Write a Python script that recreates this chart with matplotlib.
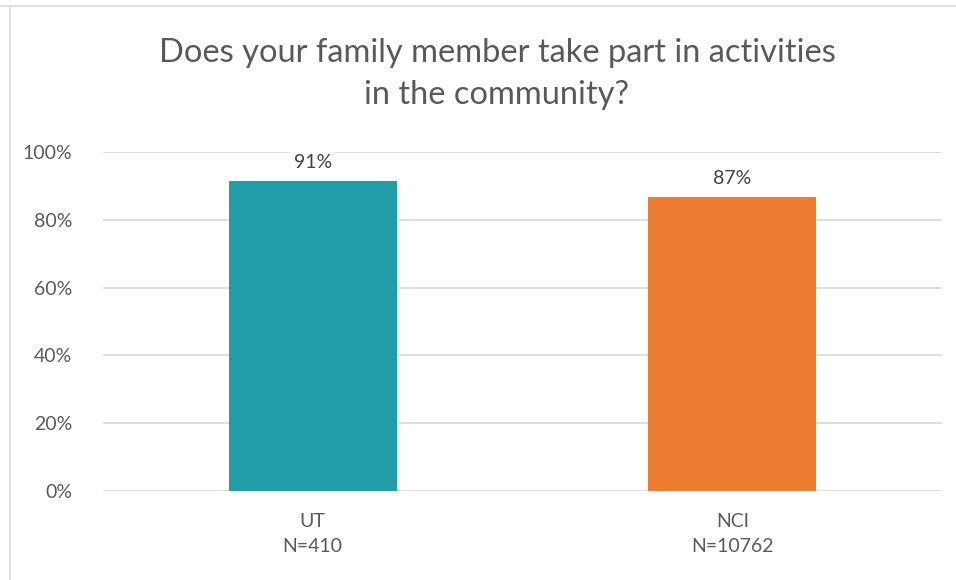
import matplotlib.pyplot as plt
from matplotlib.lines import Line2D

categories = ['UT\nN=410', 'NCI\nN=10762']
values = [91.4, 86.7]
bar_colors = ['#209DA6', '#ED7D31']
yticks = [0, 20, 40, 60, 80, 100]

plt.rcParams['font.family'] = ['Lato', 'DejaVu Sans']

fig = plt.figure(figsize=(9.56, 5.8), dpi=100)
ax = fig.add_axes([103/956, 89/580, 839/956, 339/580])

x = range(len(categories))
bars = ax.bar(x, values, width=0.4, color=bar_colors, zorder=3)

for b, v in zip(bars, values):
    ax.text(b.get_x() + b.get_width()/2, v + 3, '%d%%' % round(v),
            ha='center', va='bottom', fontsize=14, color='#404040',
            bbox=dict(facecolor='white', edgecolor='none', pad=2), zorder=4)

ax.set_xlim(-0.5, 1.5)
ax.set_ylim(0, 100)
ax.set_yticks(yticks)
ax.set_yticklabels(['%d%%' % t for t in yticks], fontsize=14, color='#595959')
ax.set_xticks(list(x))
ax.set_xticklabels(categories, fontsize=14, color='#595959', linespacing=1.55)
ax.tick_params(axis='both', length=0)
ax.tick_params(axis='y', pad=22)
ax.tick_params(axis='x', pad=16)
ax.grid(axis='y', color='#D9D9D9', linewidth=1.2, zorder=0)
for s in ax.spines.values():
    s.set_visible(False)

fig.text(497/956, 1 - 74/580, 'Does your family member take part in activities\nin the community?',
         ha='center', va='center', fontsize=23.5, color='#595959', linespacing=1.5)

# chart border (only top and left show in the crop)
fig.add_artist(Line2D([0, 1], [1 - 6/580]*2, transform=fig.transFigure, color='#D9D9D9', lw=1.2))
fig.add_artist(Line2D([10/956]*2, [0, 1 - 6/580], transform=fig.transFigure, color='#D9D9D9', lw=1.2))

fig.savefig('out.png', dpi=100)
